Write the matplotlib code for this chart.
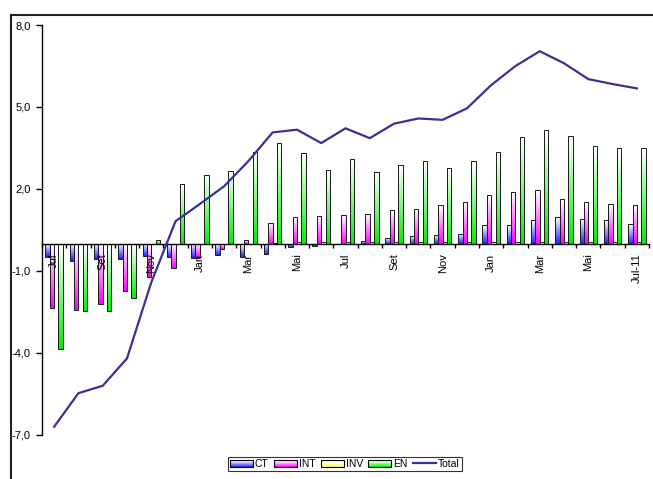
import matplotlib
matplotlib.use('Agg')
import matplotlib.pyplot as plt
import numpy as np
from matplotlib.patches import Rectangle
from matplotlib.lines import Line2D
from matplotlib.colors import LinearSegmentedColormap, to_rgb
from matplotlib.legend_handler import HandlerBase

plt.rcParams['font.family'] = ['Liberation Sans', 'DejaVu Sans']

months = ['Jul', 'Ago', 'Set', 'Out', 'Nov', 'Dez', 'Jan', 'Fev', 'Mar', 'Abr', 'Mai', 'Jun',
          'Jul', 'Ago', 'Set', 'Out', 'Nov', 'Dez', 'Jan', 'Fev', 'Mar', 'Abr', 'Mai', 'Jun', 'Jul-11']

CT = [-0.5, -0.63, -0.55, -0.55, -0.45, -0.47, -0.54, -0.4, -0.47, -0.38, -0.13, -0.1, -0.02,
      0.1, 0.2, 0.27, 0.32, 0.37, 0.67, 0.68, 0.86, 0.96, 0.89, 0.86, 0.71]
INT = [-2.37, -2.43, -2.2, -1.75, -1.23, -0.9, -0.54, -0.18, 0.13, 0.74, 0.96, 1.0, 1.05,
       1.09, 1.22, 1.28, 1.4, 1.53, 1.79, 1.88, 1.96, 1.64, 1.51, 1.44, 1.42]
INV = [-0.03, -0.03, -0.03, -0.03, -0.02, -0.02, -0.02, -0.02, 0.0, 0.02, 0.05, 0.05, 0.05,
       0.05, 0.05, 0.05, 0.05, 0.05, 0.05, 0.05, 0.05, 0.05, 0.05, 0.05, 0.05]
EN = [-3.87, -2.47, -2.47, -1.97, 0.12, 2.18, 2.53, 2.67, 3.34, 3.7, 3.3, 2.7, 3.1,
      2.62, 2.89, 3.02, 2.75, 3.01, 3.34, 3.89, 4.17, 3.95, 3.57, 3.51, 3.49]
Total = [-6.7, -5.47, -5.2, -4.2, -1.42, 0.82, 1.45, 2.1, 3.02, 4.07, 4.17, 3.68, 4.22,
         3.86, 4.39, 4.58, 4.53, 4.95, 5.8, 6.5, 7.04, 6.6, 6.02, 5.84, 5.68]

series = [('CT', CT, '#2020ff'), ('INT', INT, '#ff00ff'), ('INV', INV, '#ffff66'), ('EN', EN, '#00ee00')]
yticks = [-7, -4, -1, 2, 5, 8]

fig = plt.figure(figsize=(6.53, 4.79), dpi=100)
ax = fig.add_axes([0.0643, 0.0919, 0.9296, 0.8559])

x = np.arange(len(months))
w = 0.18
grad = np.linspace(0, 1, 64).reshape(-1, 1)

for k, (name, vals, col) in enumerate(series):
    cmap = LinearSegmentedColormap.from_list(name, ['white', col])
    off = (k - 1.5) * w
    for i, v in enumerate(vals):
        if v == 0:
            continue
        x0 = x[i] + off - w / 2
        y0 = min(0, v)
        h = abs(v)
        rect = Rectangle((x0, y0), w, h, fill=False, edgecolor='#1a1a1a', lw=0.7, zorder=3)
        ax.add_patch(rect)
        im = ax.imshow(grad, cmap=cmap, aspect='auto', origin='upper',
                       extent=(x0, x0 + w, y0, y0 + h), zorder=2, interpolation='bilinear')
        im.set_clip_path(rect)

ax.plot(x, Total, color='#333399', lw=1.6, zorder=5)

ax.set_xlim(-0.5, len(months) - 0.5)
ax.set_ylim(-7, 8)
ax.set_aspect('auto')

ax.spines['top'].set_visible(False)
ax.spines['right'].set_visible(False)
ax.spines['bottom'].set_position(('data', 0))
ax.spines['bottom'].set_zorder(4)
ax.spines['left'].set_linewidth(1.0)
ax.spines['bottom'].set_linewidth(1.0)

ax.set_yticks(yticks)
ax.set_yticklabels([f'{v:.1f}'.replace('.', ',') for v in yticks], fontsize=8)
ax.tick_params(axis='y', direction='out', length=4, width=1, pad=4)

ax.set_xticks(x[::2])
ax.set_xticklabels(months[::2], rotation=90, fontsize=8)
ax.set_xticks(np.arange(-0.5, len(months)), minor=True)
ax.tick_params(axis='x', which='major', length=0, pad=7)
ax.tick_params(axis='x', which='minor', direction='out', length=3, width=1)
ax.xaxis.set_zorder(4)

# outer chart border
fig.add_artist(Line2D([11 / 653, 11 / 653], [0, 1 - 15 / 479], transform=fig.transFigure, color='#222222', lw=1.5))
fig.add_artist(Line2D([11 / 653, 1], [1 - 15 / 479, 1 - 15 / 479], transform=fig.transFigure, color='#222222', lw=1.5))


class GradHandler(HandlerBase):
    def __init__(self, col):
        super().__init__()
        self.col = np.array(to_rgb(col))

    def create_artists(self, legend, orig_handle, xd, yd, width, height, fontsize, trans):
        arts = []
        n = 6
        for j in range(n):
            t = (j + 0.5) / n
            c = 1 - (1 - self.col) * (1 - t)
            r = Rectangle((xd, yd + height * j / n), width, height / n, facecolor=c,
                          edgecolor='none', transform=trans)
            arts.append(r)
        arts.append(Rectangle((xd, yd), width, height, fill=False, edgecolor='black', lw=0.8, transform=trans))
        return arts


handles = []
hmap = {}
for name, vals, col in series:
    h = Rectangle((0, 0), 1, 1)
    handles.append(h)
    hmap[h] = GradHandler(col)
line_h = Line2D([], [], color='#333399', lw=1.6)
handles.append(line_h)
labels = [s[0] for s in series] + ['Total']

leg = fig.legend(handles, labels, handler_map=hmap, loc='center', bbox_to_anchor=(0.528, 0.032),
                 ncol=5, fontsize=7.5, frameon=True, fancybox=False, handlelength=2.2,
                 handleheight=0.6, handletextpad=0.2, columnspacing=0.5, borderpad=0.2,
                 borderaxespad=0)
leg.get_frame().set_edgecolor('black')
leg.get_frame().set_linewidth(0.8)

fig.savefig('out.png', dpi=100)
